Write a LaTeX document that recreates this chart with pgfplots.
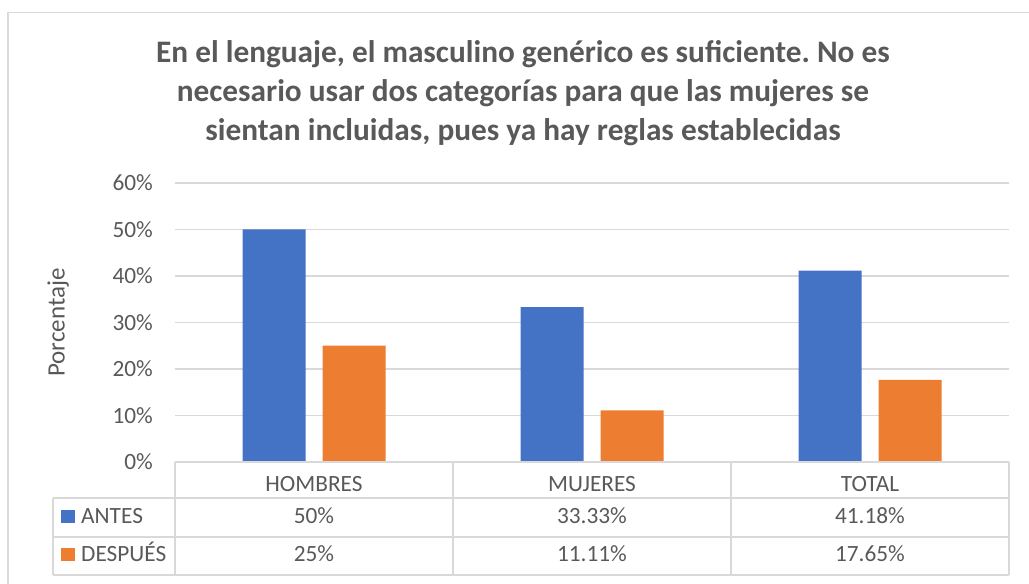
\documentclass[border=0pt]{standalone}
\usepackage{pgfplots}
\pgfplotsset{compat=1.18}
\usepackage{fontspec}
\setmainfont{Carlito}
\frenchspacing

\definecolor{antes}{HTML}{4472C4}
\definecolor{despues}{HTML}{ED7D31}
\definecolor{txt}{HTML}{595959}
\definecolor{gridc}{HTML}{D9D9D9}

\newcommand{\lbl}{\fontsize{23.3}{28}\selectfont}

\begin{document}
\begin{tikzpicture}[x=1pt, y=1pt]
  \useasboundingbox (0,0) rectangle (1029,584);
  % chart area border
  \draw[gridc, line width=1.3pt] (8,0) -- (8,571.3) -- (1029,571.3);

  % title
  \begin{scope}[every node/.style={anchor=base, text=txt, inner sep=0pt,
      font=\fontsize{31.3}{40}\selectfont\bfseries}]
    \node at (523,521) {En el lenguaje, el masculino genérico es suficiente. No es};
    \node at (523,482) {necesario usar dos categorías para que las mujeres se};
    \node at (523,443) {sientan incluidas, pues ya hay reglas establecidas};
  \end{scope}

  \begin{axis}[
      at={(175pt,122pt)}, anchor=south west,
      scale only axis,
      width=834pt, height=279pt,
      ybar=17pt, bar width=63pt,
      xmin=-0.5, xmax=2.5,
      ymin=0, ymax=0.6,
      xtick={0,1,2},
      xticklabels={HOMBRES, MUJERES, TOTAL},
      ytick={0,0.1,0.2,0.3,0.4,0.5,0.6},
      yticklabels={0\%,10\%,20\%,30\%,40\%,50\%,60\%},
      ymajorgrids=true,
      grid style={gridc, line width=1.2pt},
      axis line style={draw=none},
      tick style={draw=none},
      xticklabel style={anchor=base, yshift=-25pt, text=txt, font=\lbl},
      yticklabel style={anchor=east, inner sep=0pt, xshift=-22pt, text=txt, font=\lbl},
      ylabel={Porcentaje},
      ylabel style={at={(axis description cs:-0.14,0.5)}, anchor=center,
        text=txt, font=\fontsize{25}{30}\selectfont},
      clip=false,
    ]
    \addplot[fill=antes, draw=none] coordinates {(0,0.5) (1,0.3333) (2,0.4118)};
    \addplot[fill=despues, draw=none] coordinates {(0,0.25) (1,0.1111) (2,0.1765)};
  \end{axis}

  % data table
  \begin{scope}[gridc, line width=1.2pt]
    \draw (175,122) -- (1009,122);
    \draw (53,86) -- (1009,86);
    \draw (53,47) -- (1009,47);
    \draw (53,9) -- (1009,9);
    \draw (53,86) -- (53,9);
    \draw (175,122) -- (175,9);
    \draw (453,122) -- (453,9);
    \draw (731,122) -- (731,9);
    \draw (1009,122) -- (1009,9);
  \end{scope}
  \fill[antes] (61,61) rectangle (75,74);
  \fill[despues] (61,23) rectangle (75,36);
  \begin{scope}[every node/.style={anchor=base, text=txt, inner sep=0pt, font=\lbl}]
    \node[anchor=base west] at (81,60) {ANTES};
    \node[anchor=base west] at (81,22) {DESPUÉS};
    \node at (314,60) {50\%};
    \node at (592,60) {33.33\%};
    \node at (870,60) {41.18\%};
    \node at (314,22) {25\%};
    \node at (592,22) {11.11\%};
    \node at (870,22) {17.65\%};
  \end{scope}
\end{tikzpicture}
\end{document}
